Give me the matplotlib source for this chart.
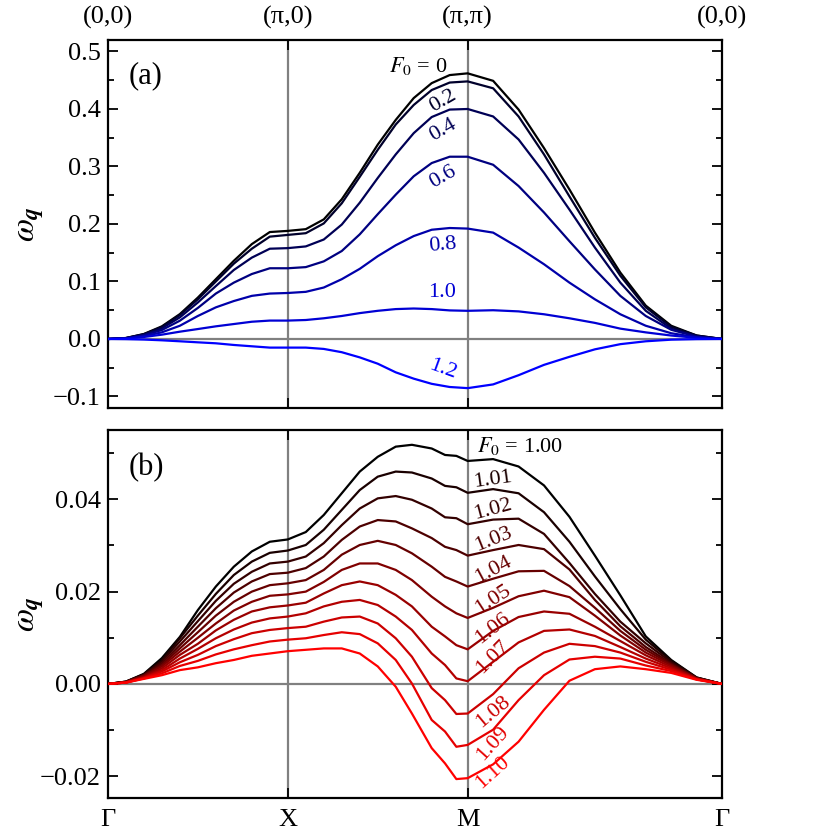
import numpy as np
import matplotlib
matplotlib.use("Agg")
import matplotlib.pyplot as plt

# path fractions along each segment: Gamma-X, X-M, M-Gamma
gx_frac = [0.0, 0.1, 0.2, 0.3, 0.4, 0.5, 0.6, 0.7, 0.8, 0.9, 1.0]
xm_frac_a = [0.1, 0.2, 0.3, 0.4, 0.5, 0.6, 0.7, 0.8, 0.9, 1.0]
xm_frac_b = [0.1, 0.2, 0.3, 0.4, 0.5, 0.6, 0.69, 0.8, 0.874, 0.937, 1.0]
mg_frac = [0.1, 0.2, 0.3, 0.4, 0.5, 0.6, 0.7, 0.8, 0.9, 1.0]

# panel (a): omega_q for F0 = 0 ... 1.2
f0_a = ["0", "0.2", "0.4", "0.6", "0.8", "1.0", "1.2"]
omega_a = [
    [0, 0.0017, 0.0087, 0.022, 0.0433, 0.072, 0.104, 0.136, 0.165, 0.186, 0.188,
     0.191, 0.208, 0.243, 0.289, 0.338, 0.381, 0.419, 0.445, 0.459, 0.462,
     0.449, 0.399, 0.332, 0.26, 0.185, 0.1155, 0.058, 0.023, 0.006, 0],
    [0, 0.0016, 0.0083, 0.0208, 0.0416, 0.069, 0.100, 0.131, 0.157, 0.178, 0.181,
     0.184, 0.201, 0.236, 0.282, 0.329, 0.373, 0.407, 0.433, 0.446, 0.448,
     0.436, 0.387, 0.321, 0.248, 0.176, 0.110, 0.055, 0.021, 0.006, 0],
    [0, 0.0015, 0.0075, 0.0185, 0.0376, 0.0635, 0.092, 0.12, 0.1415, 0.157, 0.158,
     0.161, 0.173, 0.199, 0.237, 0.28, 0.321, 0.358, 0.386, 0.399, 0.40,
     0.387, 0.347, 0.289, 0.225, 0.159, 0.098, 0.049, 0.018, 0.005, 0],
    [0, 0.0013, 0.0064, 0.0156, 0.0318, 0.054, 0.079, 0.098, 0.113, 0.123, 0.123,
     0.125, 0.135, 0.153, 0.182, 0.217, 0.251, 0.283, 0.306, 0.317, 0.317,
     0.303, 0.266, 0.22, 0.17, 0.121, 0.075, 0.040, 0.016, 0.004, 0],
    [0, 0.001, 0.0049, 0.0116, 0.023, 0.040, 0.055, 0.066, 0.075, 0.079, 0.080,
     0.082, 0.0895, 0.104, 0.122, 0.144, 0.163, 0.179, 0.19, 0.193, 0.192,
     0.185, 0.159, 0.13, 0.098, 0.069, 0.043, 0.023, 0.010, 0.003, 0],
    [0, 0.0008, 0.0035, 0.0075, 0.0127, 0.0173, 0.022, 0.026, 0.030, 0.032, 0.032,
     0.033, 0.036, 0.040, 0.045, 0.049, 0.052, 0.053, 0.052, 0.0497, 0.049,
     0.050, 0.048, 0.043, 0.036, 0.028, 0.018, 0.0115, 0.006, 0.002, 0],
    [0, -0.0003, -0.001, -0.0023, -0.004, -0.0058, -0.0075, -0.0104, -0.0127, -0.015, -0.015,
     -0.015, -0.0173, -0.023, -0.032, -0.043, -0.058, -0.069, -0.078, -0.0835, -0.0855,
     -0.079, -0.063, -0.045, -0.031, -0.018, -0.009, -0.004, -0.0012, -0.0003, 0],
]

# panel (b): omega_q for F0 = 1.00 ... 1.10
f0_b = ["1.00", "1.01", "1.02", "1.03", "1.04", "1.05", "1.06", "1.07", "1.08", "1.09", "1.10"]
omega_b = [
    [0, 0.0005, 0.0022, 0.0056, 0.0102, 0.016, 0.0211, 0.0254, 0.0287, 0.0308, 0.0313,
     0.0329, 0.0366, 0.0413, 0.0460, 0.0492, 0.0514, 0.0518, 0.0510, 0.0496, 0.0494, 0.0483,
     0.0487, 0.0471, 0.0430, 0.0362, 0.0278, 0.0192, 0.0103, 0.0052, 0.0014, 0],
    [0, 0.0005, 0.0021, 0.0052, 0.0099, 0.0148, 0.0195, 0.0236, 0.0265, 0.0284, 0.0289,
     0.0301, 0.0334, 0.0377, 0.0420, 0.0449, 0.0460, 0.0458, 0.0445, 0.0429, 0.0426, 0.0414,
     0.0422, 0.0413, 0.0372, 0.0308, 0.0233, 0.0162, 0.0096, 0.0050, 0.0014, 0],
    [0, 0.0005, 0.0020, 0.0049, 0.0092, 0.0136, 0.018, 0.0217, 0.0243, 0.0261, 0.0265,
     0.0276, 0.0305, 0.0344, 0.0380, 0.0402, 0.0407, 0.0399, 0.0380, 0.0361, 0.0359, 0.0346,
     0.0356, 0.0358, 0.0325, 0.0262, 0.0195, 0.0135, 0.0088, 0.0047, 0.0013, 0],
    [0, 0.0004, 0.0019, 0.0045, 0.0084, 0.0124, 0.0164, 0.0198, 0.0222, 0.0238, 0.0241,
     0.0251, 0.0276, 0.0312, 0.0341, 0.0355, 0.0352, 0.0337, 0.0316, 0.0297, 0.0290, 0.0278,
     0.0290, 0.0301, 0.0292, 0.0248, 0.0182, 0.0125, 0.0080, 0.0044, 0.0013, 0],
    [0, 0.0004, 0.0018, 0.0041, 0.0077, 0.0112, 0.0148, 0.0178, 0.0200, 0.0214, 0.0218,
     0.0225, 0.0247, 0.0280, 0.0301, 0.0310, 0.0301, 0.0283, 0.0254, 0.0232, 0.0222, 0.0211,
     0.0228, 0.0244, 0.0245, 0.0212, 0.0165, 0.0115, 0.0074, 0.0042, 0.0012, 0],
    [0, 0.0004, 0.0017, 0.0038, 0.0070, 0.0100, 0.0131, 0.0159, 0.0178, 0.0191, 0.0194,
     0.0200, 0.0221, 0.0247, 0.0261, 0.0261, 0.0247, 0.0225, 0.0189, 0.0168, 0.0153, 0.0143,
     0.0165, 0.0190, 0.0202, 0.0188, 0.0148, 0.0105, 0.0068, 0.0040, 0.0012, 0],
    [0, 0.0004, 0.0015, 0.0034, 0.0063, 0.0087, 0.0116, 0.0139, 0.0157, 0.0166, 0.0170,
     0.0176, 0.0196, 0.0214, 0.0222, 0.0214, 0.0193, 0.0168, 0.0124, 0.0103, 0.0084, 0.0075,
     0.0115, 0.0145, 0.0157, 0.0152, 0.0124, 0.0093, 0.0062, 0.0037, 0.0011, 0],
    [0, 0.0003, 0.0014, 0.0030, 0.0055, 0.0076, 0.0099, 0.0118, 0.0133, 0.0142, 0.0146,
     0.0153, 0.0168, 0.0178, 0.0182, 0.0171, 0.0146, 0.0117, 0.0066, 0.0041, 0.0012, 0.0006,
     0.0048, 0.0090, 0.0115, 0.0118, 0.0104, 0.0080, 0.0055, 0.0034, 0.0011, 0],
    [0, 0.0003, 0.0013, 0.0027, 0.0047, 0.0063, 0.0082, 0.0097, 0.0110, 0.0117, 0.0121,
     0.0124, 0.0135, 0.0144, 0.0146, 0.0131, 0.0099, 0.0059, -0.0009, -0.0035, -0.0065, -0.0064,
     -0.0022, 0.0034, 0.0068, 0.0087, 0.0082, 0.0068, 0.0048, 0.0031, 0.0010, 0],
    [0, 0.0003, 0.0012, 0.0023, 0.0039, 0.0050, 0.0064, 0.0075, 0.0084, 0.0092, 0.0096,
     0.0099, 0.0106, 0.0112, 0.0108, 0.0088, 0.0052, 0.0001, -0.0078, -0.0103, -0.0136, -0.0132,
     -0.0099, -0.0035, 0.0019, 0.0053, 0.0059, 0.0055, 0.0040, 0.0028, 0.0010, 0],
    [0, 0.0003, 0.0011, 0.0019, 0.0030, 0.0036, 0.0045, 0.0052, 0.0061, 0.0066, 0.0071,
     0.0074, 0.0077, 0.0077, 0.0066, 0.0038, -0.0006, -0.0064, -0.0139, -0.0172, -0.0206, -0.0204,
     -0.0174, -0.0125, -0.0056, 0.0007, 0.0032, 0.0038, 0.0032, 0.0024, 0.0009, 0],
]

top_ticklabels = ["(0,0)", "(\u03c0,0)", "(\u03c0,\u03c0)", "(0,0)"]
bot_ticklabels = ["\u0393", "X", "M", "\u0393"]

plt.rcParams['font.family'] = ['Liberation Serif', 'STIXGeneral', 'DejaVu Serif']
plt.rcParams['mathtext.fontset'] = 'stix'
plt.rcParams['font.size'] = 19


def path_coords(xm_frac):
    # Gamma -> X -> M -> Gamma, lengths 1, 1, sqrt(2)
    return np.concatenate([np.array(gx_frac), 1 + np.array(xm_frac),
                           2 + np.sqrt(2) * np.array(mg_frac)])


def style_axes(ax, ylim, major, minor):
    xmax = 2 + np.sqrt(2)
    ax.set_xlim(0, xmax)
    ax.set_ylim(*ylim)
    ax.axhline(0, color='#808080', lw=1.6, zorder=1)
    for xv in (1, 2):
        ax.axvline(xv, color='#808080', lw=1.6, zorder=1)
    ax.set_xticks([0, 1, 2, xmax])
    ax.yaxis.set_major_locator(plt.MultipleLocator(major))
    ax.yaxis.set_minor_locator(plt.MultipleLocator(minor))
    ax.tick_params(which='both', direction='in', top=True, right=True, width=1.3)
    ax.tick_params(which='major', length=7)
    ax.tick_params(which='minor', length=4)
    ax.tick_params(axis='x', pad=8)
    ax.tick_params(axis='y', pad=5)
    for sp in ax.spines.values():
        sp.set_linewidth(1.6)
    ax.set_ylabel(r'$\omega_{\mathbfit{q}}$', fontsize=24)
    ax.yaxis.set_label_coords(-0.10, 0.5)


fig = plt.figure(figsize=(8.3, 8.35), dpi=100)
ax1 = fig.add_axes([0.130, 0.5114, 0.740, 0.4407])
ax2 = fig.add_axes([0.130, 0.0443, 0.740, 0.4407])

# panel (a)
xa = path_coords(xm_frac_a)
cols_a = [(0, 0, t) for t in np.linspace(0, 1, len(f0_a))]
for y, c in zip(omega_a, cols_a):
    ax1.plot(xa, y, color=c, lw=1.6, zorder=3)
style_axes(ax1, (-0.12, 0.52), 0.1, 0.05)
ax1.tick_params(axis='x', labelbottom=False, labeltop=True)
ax1.set_xticklabels(top_ticklabels)
ax1.text(0.033, 0.902, '(a)', transform=ax1.transAxes, fontsize=22, va='center')

ax1.text(1.885, 0.475, r'$F_0$ = 0', color=cols_a[0], fontsize=16, ha='right', va='center')
lab_a = [(0.414, 30), (0.364, 30), (0.281, 30), (0.163, 5), (0.080, 0), (-0.054, -20)]
for (yv, rot), lab, c in zip(lab_a, f0_a[1:], cols_a[1:]):
    ax1.text(1.86, yv, lab, color=c, fontsize=16, ha='center', va='center', rotation=rot)

# panel (b)
xb = path_coords(xm_frac_b)
cols_b = [(t, 0, 0) for t in np.linspace(0, 1, len(f0_b))]
for y, c in zip(omega_b, cols_b):
    ax2.plot(xb, y, color=c, lw=1.6, zorder=3)
style_axes(ax2, (-0.0247, 0.0550), 0.02, 0.01)
ax2.set_xticklabels(bot_ticklabels)
ax2.text(0.033, 0.899, '(b)', transform=ax2.transAxes, fontsize=22, va='center')

ax2.text(2.052, 0.0516, r'$F_0$ = 1.00', color=cols_b[0], fontsize=16, ha='left', va='center')
lab_b = [(0.0442, 8), (0.0377, 15), (0.0312, 22), (0.0247, 28), (0.0182, 33),
         (0.0121, 38), (0.0059, 45), (-0.0061, 40), (-0.0128, 48), (-0.0191, 42)]
for (yv, rot), lab, c in zip(lab_b, f0_b[1:], cols_b[1:]):
    ax2.text(2.141, yv, lab, color=c, fontsize=16, ha='center', va='center', rotation=rot)

plt.savefig("out.png", dpi=100)
